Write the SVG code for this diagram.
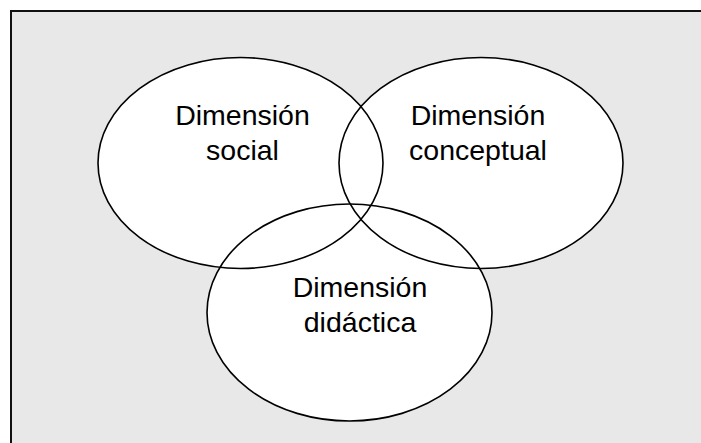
<svg xmlns="http://www.w3.org/2000/svg" width="701" height="443" viewBox="0 0 701 443">
<style>
.fill{fill:#ffffff;stroke:none}
.ring{fill:none;stroke:#000000;stroke-width:1.6}
.lbl{font-family:"Liberation Sans",Arial,sans-serif;font-size:28.5px;fill:#000000;text-anchor:middle}
</style>
<rect x="11" y="11" width="700" height="450" fill="#e8e8e8" stroke="#111111" stroke-width="2"/>
<g id="fills">
<ellipse class="fill" cx="240.5" cy="163" rx="142.5" ry="105.5"/>
<ellipse class="fill" cx="481" cy="163" rx="142" ry="105.5"/>
<ellipse class="fill" cx="349.5" cy="312.5" rx="142.5" ry="108.5"/>
</g>
<g id="social">
<ellipse class="ring" cx="240.5" cy="163" rx="142.5" ry="105.5"/>
<text class="lbl" x="242.5" y="125">Dimensión</text>
<text class="lbl" x="242.5" y="160">social</text>
</g>
<g id="conceptual">
<ellipse class="ring" cx="481" cy="163" rx="142" ry="105.5"/>
<text class="lbl" x="478" y="125">Dimensión</text>
<text class="lbl" x="478" y="160">conceptual</text>
</g>
<g id="didactica">
<ellipse class="ring" cx="349.5" cy="312.5" rx="142.5" ry="108.5"/>
<text class="lbl" x="360" y="297">Dimensión</text>
<text class="lbl" x="360" y="332">didáctica</text>
</g>
<g id="connectors"/>
</svg>
